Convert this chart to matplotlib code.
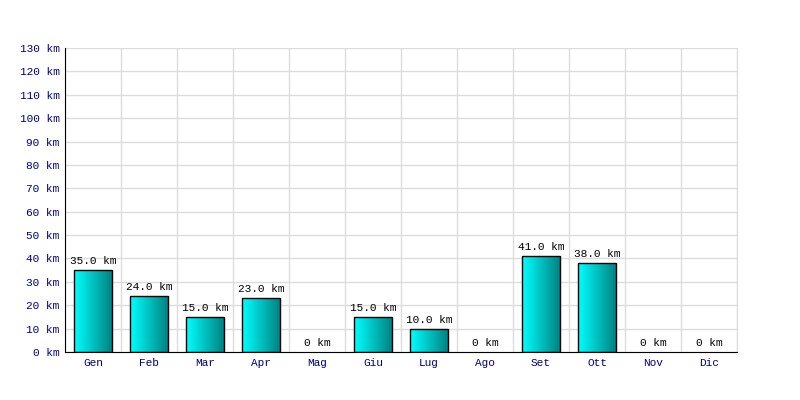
import numpy as np
import matplotlib
matplotlib.use('Agg')
import matplotlib.pyplot as plt
from matplotlib.colors import LinearSegmentedColormap

months = ['Gen', 'Feb', 'Mar', 'Apr', 'Mag', 'Giu', 'Lug', 'Ago', 'Set', 'Ott', 'Nov', 'Dic']
km = [35.0, 24.0, 15.0, 23.0, 0, 15.0, 10.0, 0, 41.0, 38.0, 0, 0]
yticks = list(range(0, 140, 10))

plt.rcParams['font.family'] = ['Liberation Mono', 'DejaVu Sans Mono']
plt.rcParams['font.size'] = 8

fig = plt.figure(figsize=(8, 4), dpi=100)
ax = fig.add_axes([0.08125, 0.12, 0.84, 0.76])

x = np.arange(len(months))
bw = 0.68
cmap = LinearSegmentedColormap.from_list('teal', ['#00ffff', '#008080'])
grad = np.linspace(0, 1, 64).reshape(1, -1)

# bars with a horizontal gradient fill, empty months get no bar
for i, v in enumerate(km):
    if v <= 0:
        continue
    b = ax.bar(x[i], v, width=bw, facecolor='none', edgecolor='black', linewidth=1, zorder=3)[0]
    x0 = b.get_x()
    im = ax.imshow(grad, cmap=cmap, aspect='auto', extent=[x0, x0 + bw, 0, v],
                   zorder=2, interpolation='bilinear')
    im.set_clip_path(b)

for i, v in enumerate(km):
    lab = '0 km' if v == 0 else '%.1f km' % v
    ax.text(x[i], v + 1.6, lab, ha='center', va='bottom', color='black', fontsize=8)

ax.set_xlim(-0.5, len(months) - 0.5)
ax.set_ylim(0, 130)
ax.set_yticks(yticks)
ax.set_yticklabels(['%d km' % t for t in yticks], color='#000080')
ax.set_xticks(x)
ax.set_xticklabels(months, color='#000080')
ax.set_xticks(np.arange(-0.5, len(months)), minor=True)
ax.tick_params(axis='both', which='both', length=0, pad=4)
ax.grid(False)
ax.yaxis.grid(True, color='#dcdcdc', linewidth=1, zorder=0)
ax.xaxis.grid(True, which='minor', color='#dcdcdc', linewidth=1, zorder=0)
ax.set_axisbelow(True)
ax.spines['top'].set_visible(False)
ax.spines['right'].set_color('#dcdcdc')
ax.spines['left'].set_color('black')
ax.spines['bottom'].set_color('black')

fig.savefig('out.png', dpi=100)
